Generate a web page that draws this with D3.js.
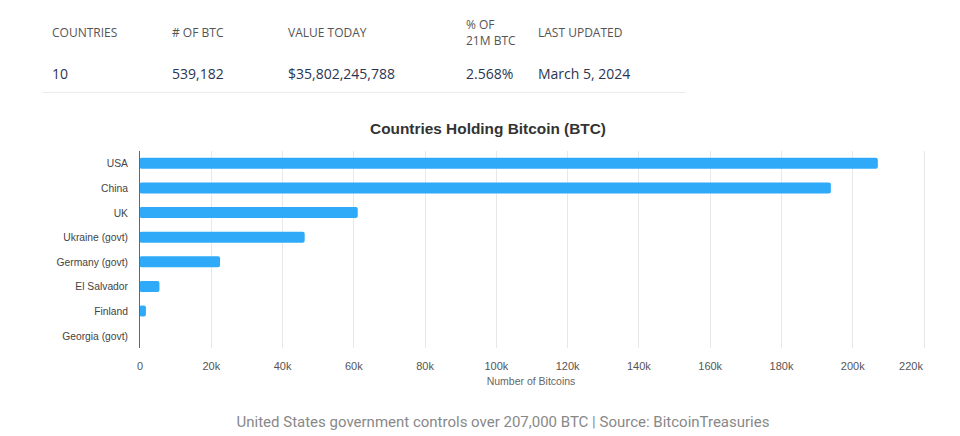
<html>
<head>
<script src="https://cdnjs.cloudflare.com/ajax/libs/d3/7.8.5/d3.min.js"></script>
<style>
  body { margin: 0; background: #fff; }
  .hdr { font-family: "Open Sans", sans-serif; font-size: 12px; fill: #555; }
  .val { font-family: "Open Sans", sans-serif; font-size: 14px; fill: #2b3552; }
  .cat { font-family: "Liberation Sans", Arial, sans-serif; font-size: 10.3px; fill: #444; }
  .tick text { font-family: "Liberation Sans", Arial, sans-serif; font-size: 11px; fill: #555; }
  .bar { fill: #2eaaf8; }
</style>
</head>
<body>
  <svg width="960" height="436"></svg>
</body>
</html>
<script>

  var headers = [['COUNTRIES'], ['# OF BTC'], ['VALUE TODAY'], ['% OF', '21M BTC'], ['LAST UPDATED']];
  var headerValues = ['10', '539,182', '$35,802,245,788', '2.568%', 'March 5, 2024'];
  var headerX = [52, 172, 288, 466, 538];

  var countries = ['USA', 'China', 'UK', 'Ukraine (govt)', 'Germany (govt)', 'El Salvador', 'Finland', 'Georgia (govt)'];
  var bitcoins = [207189, 194000, 61245, 46351, 22600, 5600, 1800, 66];
  var xTicks = [0, 20000, 40000, 60000, 80000, 100000, 120000, 140000, 160000, 180000, 200000, 220000];

  const svg = d3.select('svg');

  // summary table on top
  headers.forEach(function(lines, i) {
    var t = svg.append('text').attr('class', 'hdr').attr('x', headerX[i]);
    if (lines.length == 1) {
      t.attr('y', 37).text(lines[0]);
    } else {
      t.append('tspan').attr('x', headerX[i]).attr('y', 29).text(lines[0]);
      t.append('tspan').attr('x', headerX[i]).attr('y', 45).text(lines[1]);
    }
    svg.append('text').attr('class', 'val')
      .attr('x', headerX[i]).attr('y', 79)
      .text(headerValues[i]);
  });

  svg.append('line')
    .attr('x1', 42).attr('x2', 686).attr('y1', 92.5).attr('y2', 92.5)
    .attr('stroke', '#ececec');

  // chart
  const plotLeft = 139.5, plotRight = 923.5, plotTop = 151, plotBottom = 348;

  const xScale = d3.scaleLinear().domain([0, 220000]).range([plotLeft, plotRight]);
  const yScale = d3.scaleBand().domain(countries).range([plotTop, plotBottom]).paddingInner(0.55).paddingOuter(0.275);

  svg.append('text')
    .attr('x', 488).attr('y', 134)
    .attr('text-anchor', 'middle')
    .style('font-family', '"Liberation Sans", Arial, sans-serif')
    .style('font-size', '15.4px').style('font-weight', 'bold').style('fill', '#333')
    .text('Countries Holding Bitcoin (BTC)');

  // gridlines
  svg.append('g').selectAll('line')
    .data(xTicks.slice(1))
    .enter().append('line')
    .attr('x1', (d) => Math.round(xScale(d)) + 0.5)
    .attr('x2', (d) => Math.round(xScale(d)) + 0.5)
    .attr('y1', plotTop).attr('y2', plotBottom)
    .attr('stroke', '#e8e8e8');

  const xAxis = svg.append('g')
    .attr('transform', `translate(0, ${plotBottom})`)
    .call(d3.axisBottom(xScale).tickValues(xTicks).tickSize(0).tickPadding(14)
      .tickFormat((d) => d == 0 ? '0' : (d / 1000) + 'k'));
  xAxis.select('.domain').remove();
  // last label is pulled inside the plot edge
  xAxis.selectAll('.tick').filter((d) => d == 220000).select('text').attr('dx', -13);

  svg.selectAll('.bar')
    .data(bitcoins)
    .enter().append('rect')
    .attr('class', 'bar')
    .attr('x', xScale(0))
    .attr('y', (d, i) => yScale(countries[i]))
    .attr('height', yScale.bandwidth())
    .attr('width', (d) => xScale(d) - xScale(0))
    .attr('rx', 2);

  svg.append('line')
    .attr('x1', plotLeft).attr('x2', plotLeft).attr('y1', plotTop).attr('y2', plotBottom)
    .attr('stroke', '#666');

  svg.selectAll('.cat')
    .data(countries)
    .enter().append('text')
    .attr('class', 'cat')
    .attr('x', 128)
    .attr('y', (d) => yScale(d) + yScale.bandwidth() / 2 + 4)
    .attr('text-anchor', 'end')
    .text((d) => d);

  svg.append('text')
    .attr('x', 531).attr('y', 385)
    .attr('text-anchor', 'middle')
    .style('font-family', '"Liberation Sans", Arial, sans-serif')
    .style('font-size', '10.5px').style('fill', '#666')
    .text('Number of Bitcoins');

  svg.append('text')
    .attr('x', 503).attr('y', 427)
    .attr('text-anchor', 'middle')
    .style('font-family', 'Roboto, sans-serif')
    .style('font-size', '15px').style('fill', '#888')
    .text('United States government controls over 207,000 BTC | Source: BitcoinTreasuries');

</script>
